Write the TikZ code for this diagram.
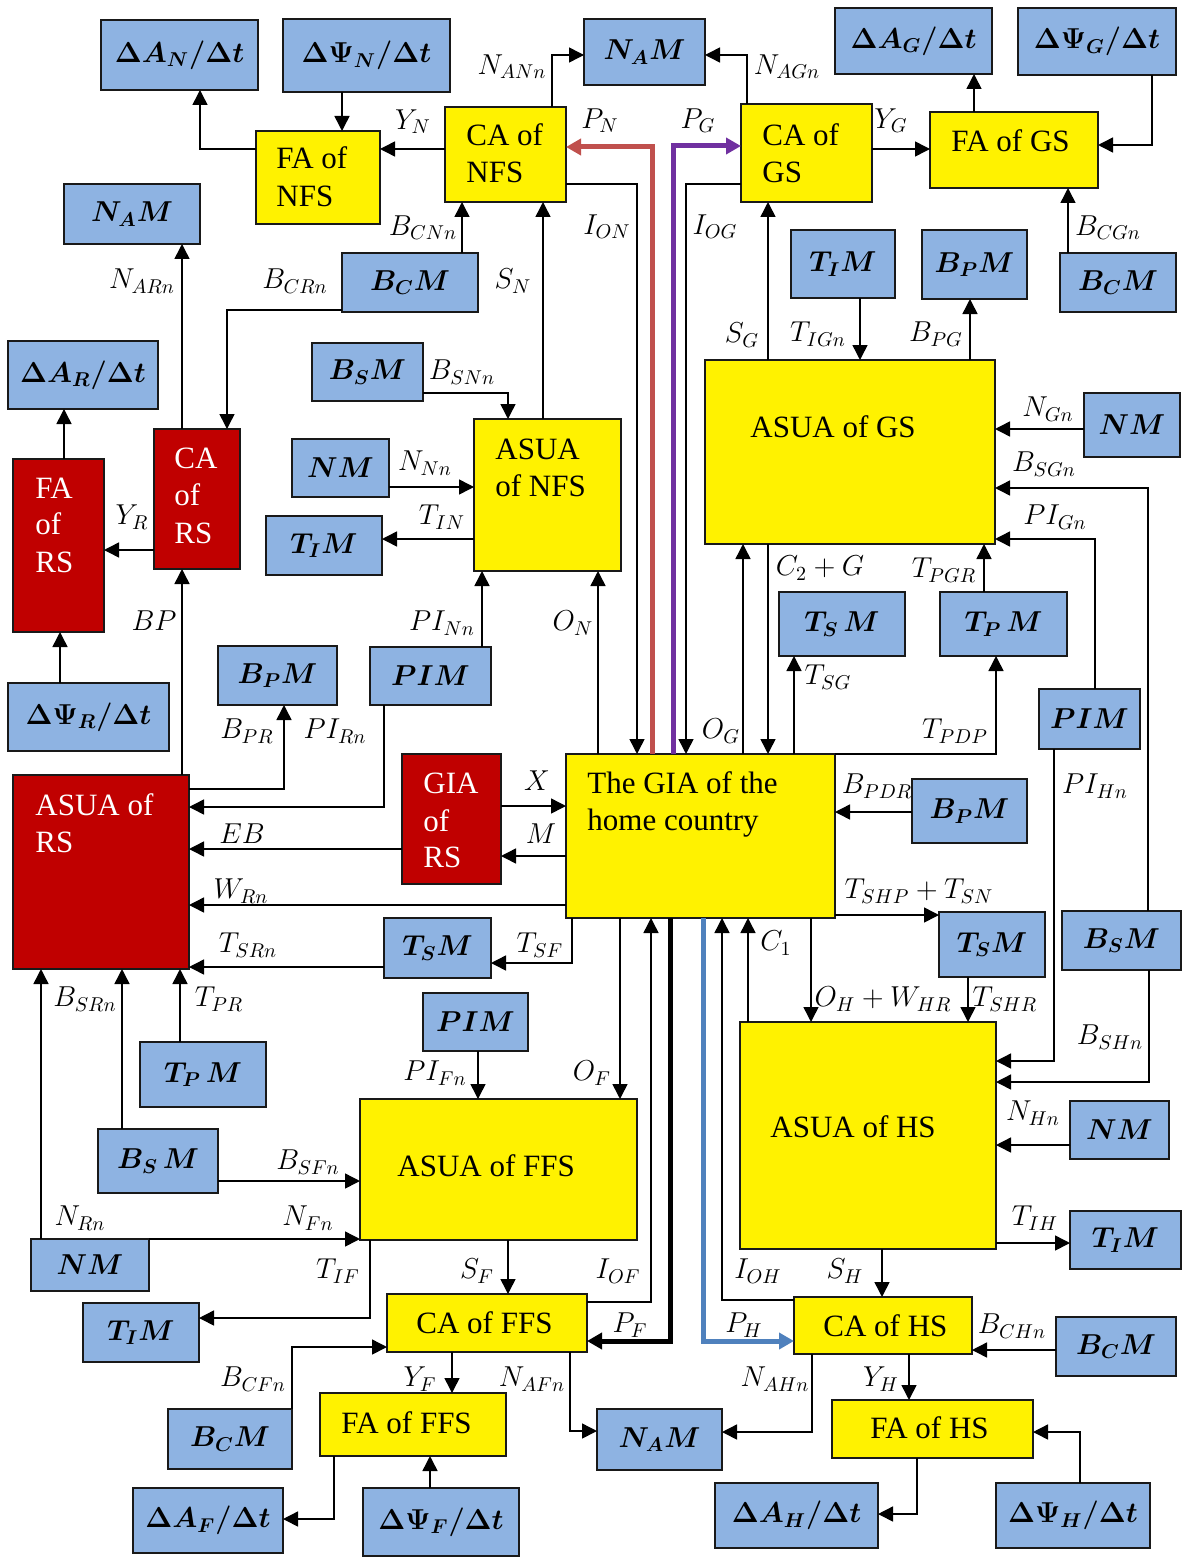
\documentclass[tikz,border=0pt]{standalone}
\usepackage{fontspec}
\setmainfont{Liberation Serif}
\newfontfamily\tnr{Liberation Serif}
\usepackage{bm}
\usetikzlibrary{arrows.meta}
\definecolor{boxblue}{RGB}{142,179,226}
\definecolor{rsred}{RGB}{192,0,0}
\definecolor{pnred}{RGB}{192,80,77}
\definecolor{pgpurple}{RGB}{112,48,160}
\definecolor{phblue}{RGB}{79,129,189}
\newcommand\bx[7]{\node[#6,minimum width={(#4-#2)*0.5pt},minimum height={(#5-#3)*0.5pt}] (#1) at ({(#2+#4)/2},{(#3+#5)/2}) {#7};}
\begin{document}
\begin{tikzpicture}[x=0.5pt,y=-0.5pt,
  box/.style={draw=black!90,line width=1pt,inner sep=0pt,outer sep=0pt},
  bb/.style={box,fill=boxblue,font=\fontsize{14.5}{17}\selectfont},
  yb/.style={box,fill=yellow},
  rb/.style={box,fill=rsred},
  txt/.style={anchor=base west,inner sep=0pt,font=\tnr\fontsize{15.5}{18}\selectfont},
  wtxt/.style={txt,text=white},
  lbl/.style={inner sep=0pt,font=\fontsize{14}{16}\selectfont},
  arr/.style={line width=0.75pt,-{Triangle[length=7.5pt,width=7.5pt]}},
  thk/.style={line width=2.5pt,-{Triangle[length=7.5pt,width=8pt]}}]
\useasboundingbox (0,0) rectangle (1188,1557);
\fill[white] (0,0) rectangle (1188,1557);
% ---- boxes ----
\bx{dAN}{101}{20}{258}{90}{bb}{$\bm{\Delta A_N/\Delta t}$}
\bx{dPN}{283}{19}{450}{92}{bb}{$\bm{\Delta\Psi_N/\Delta t}$}
\bx{faNFS}{256}{131}{380}{224}{yb}{}
\bx{caNFS}{445}{107}{566}{202}{yb}{}
\bx{namT}{584}{19}{705}{85}{bb}{$\bm{N_AM}$}
\bx{caGS}{741}{104}{872}{202}{yb}{}
\bx{faGS}{930}{112}{1098}{188}{yb}{}
\bx{dAG}{835}{8}{992}{74}{bb}{$\bm{\Delta A_G/\Delta t}$}
\bx{dPG}{1018}{8}{1176}{75}{bb}{$\bm{\Delta\Psi_G/\Delta t}$}
\bx{bcmTR}{1060}{253}{1176}{312}{bb}{$\bm{B_CM}$}
\bx{timT}{791}{230}{895}{298}{bb}{$\bm{T_IM}$}
\bx{bpmT}{922}{230}{1027}{299}{bb}{$\bm{B_PM}$}
\bx{asuaGS}{705}{360}{995}{544}{yb}{}
\bx{nmR}{1084}{393}{1180}{457}{bb}{$\bm{NM}$}
\bx{tsmG}{779}{592}{905}{656}{bb}{$\bm{T_S\,M}$}
\bx{tpmG}{940}{592}{1067}{656}{bb}{$\bm{T_P\,M}$}
\bx{pimR}{1039}{689}{1140}{749}{bb}{$\bm{PIM}$}
\bx{namL}{64}{184}{200}{244}{bb}{$\bm{N_AM}$}
\bx{bcmL}{342}{253}{478}{312}{bb}{$\bm{B_CM}$}
\bx{dAR}{8}{341}{158}{409}{bb}{$\bm{\Delta A_R/\Delta t}$}
\bx{bsmN}{312}{343}{423}{401}{bb}{$\bm{B_SM}$}
\bx{caRS}{154}{429}{240}{569}{rb}{}
\bx{faRS}{13}{459}{104}{632}{rb}{}
\bx{nmN}{292}{439}{389}{497}{bb}{$\bm{NM}$}
\bx{timN}{266}{516}{382}{575}{bb}{$\bm{T_IM}$}
\bx{asuaNFS}{474}{419}{621}{571}{yb}{}
\bx{dPR}{8}{683}{169}{751}{bb}{$\bm{\Delta\Psi_R/\Delta t}$}
\bx{bpmR}{218}{646}{337}{705}{bb}{$\bm{B_PM}$}
\bx{pimN}{370}{647}{491}{705}{bb}{$\bm{PIM}$}
\bx{asuaRS}{13}{775}{189}{969}{rb}{}
\bx{giaRS}{402}{754}{501}{884}{rb}{}
\bx{gia}{566}{754}{835}{918}{yb}{}
\bx{bpmH}{912}{779}{1027}{843}{bb}{$\bm{B_PM}$}
\bx{tsmF}{384}{918}{491}{978}{bb}{$\bm{T_SM}$}
\bx{tsmH}{939}{912}{1045}{977}{bb}{$\bm{T_SM}$}
\bx{bsmR}{1062}{911}{1181}{970}{bb}{$\bm{B_SM}$}
\bx{tpmR}{140}{1042}{266}{1107}{bb}{$\bm{T_P\,M}$}
\bx{pimF}{423}{993}{528}{1051}{bb}{$\bm{PIM}$}
\bx{bsmF}{98}{1129}{218}{1193}{bb}{$\bm{B_S\,M}$}
\bx{asuaFFS}{360}{1099}{637}{1240}{yb}{}
\bx{asuaHS}{740}{1022}{996}{1249}{yb}{}
\bx{nmH}{1070}{1101}{1169}{1159}{bb}{$\bm{NM}$}
\bx{timH}{1070}{1211}{1181}{1269}{bb}{$\bm{T_IM}$}
\bx{nmF}{31}{1239}{149}{1291}{bb}{$\bm{NM}$}
\bx{timF}{83}{1303}{199}{1362}{bb}{$\bm{T_IM}$}
\bx{caFFS}{387}{1294}{587}{1352}{yb}{}
\bx{caHS}{794}{1297}{972}{1354}{yb}{}
\bx{bcmH}{1056}{1317}{1176}{1376}{bb}{$\bm{B_CM}$}
\bx{bcmF}{168}{1409}{292}{1469}{bb}{$\bm{B_CM}$}
\bx{faFFS}{320}{1393}{506}{1456}{yb}{}
\bx{namB}{597}{1409}{722}{1470}{bb}{$\bm{N_AM}$}
\bx{faHS}{832}{1400}{1033}{1458}{yb}{}
\bx{dAF}{133}{1488}{283}{1553}{bb}{$\bm{\Delta A_F/\Delta t}$}
\bx{dPF}{363}{1488}{519}{1556}{bb}{$\bm{\Delta\Psi_F/\Delta t}$}
\bx{dAH}{715}{1483}{878}{1548}{bb}{$\bm{\Delta A_H/\Delta t}$}
\bx{dPH}{996}{1483}{1150}{1548}{bb}{$\bm{\Delta\Psi_H/\Delta t}$}
% ---- box texts ----
\node[txt] (tFN1) at (276,169) {FA of};
\node[txt] (tFN2) at (276,206) {NFS};
\node[txt] (tCN1) at (466,146) {CA of};
\node[txt] (tCN2) at (466,183) {NFS};
\node[txt] (tCG1) at (762,146) {CA of};
\node[txt] (tCG2) at (762,183) {GS};
\node[txt] (tFG) at (951,152) {FA of GS};
\node[wtxt] (tFR1) at (35,498) {FA};
\node[wtxt] (tFR2) at (35,534) {of};
\node[wtxt] (tFR3) at (35,572) {RS};
\node[wtxt] (tCR1) at (174,468) {CA};
\node[wtxt] (tCR2) at (174,505) {of};
\node[wtxt] (tCR3) at (174,543) {RS};
\node[txt] (tAN1) at (495,459) {ASUA};
\node[txt] (tAN2) at (495,496) {of NFS};
\node[txt] (tAG) at (750,437) {ASUA of GS};
\node[wtxt] (tAR1) at (35,815) {ASUA of};
\node[wtxt] (tAR2) at (35,852) {RS};
\node[wtxt] (tGR1) at (423,793) {GIA};
\node[wtxt] (tGR2) at (423,831) {of};
\node[wtxt] (tGR3) at (423,867) {RS};
\node[txt] (tG1) at (587,793) {The GIA of the};
\node[txt] (tG2) at (587,830) {home country};
\node[txt] (tAF) at (397,1176) {ASUA of FFS};
\node[txt] (tAH) at (770,1137) {ASUA of HS};
\node[txt] (tCF) at (416,1333) {CA of FFS};
\node[txt] (tCH) at (823,1336) {CA of HS};
\node[txt] (tFF) at (341,1433) {FA of FFS};
\node[txt] (tFH) at (870,1438) {FA of HS};
% ---- thick coloured connectors ----
\draw[thk,pnred] (gia.north -| 652,0) |- (caNFS.east |- 0,147);
\draw[thk,pgpurple] (gia.north -| 673,0) |- (caGS.west |- 0,146);
\draw[thk,phblue] (gia.south -| 703,0) |- (caHS.west |- 0,1341);
\draw[thk,black] (gia.south -| 670,0) |- (caFFS.east |- 0,1341);
% ---- connectors ----
\draw[arr] (faNFS.west |- 0,149) -| (dAN.south -| 200,0);
\draw[arr] (dPN.south -| 342,0) -- (faNFS.north -| 342,0);
\draw[arr] (caNFS.west |- 0,149) -- (faNFS.east |- 0,149);
\draw[arr] (caNFS.north -| 552,0) |- (namT.west |- 0,55);
\draw[arr] (caGS.north -| 747,0) |- (namT.east |- 0,55);
\draw[arr] (caNFS.east |- 0,184) -| (gia.north -| 637,0);
\draw[arr] (caGS.west |- 0,184) -| (gia.north -| 686,0);
\draw[arr] (asuaGS.north -| 768,0) -- (caGS.south -| 768,0);
\draw[arr] (caGS.east |- 0,149) -- (faGS.west |- 0,149);
\draw[arr] (faGS.north -| 974,0) -- (dAG.south -| 974,0);
\draw[arr] (dPG.south -| 1152,0) |- (faGS.east |- 0,145);
\draw[arr] (bcmTR.north -| 1068,0) -- (faGS.south -| 1068,0);
\draw[arr] (timT.south -| 860,0) -- (asuaGS.north -| 860,0);
\draw[arr] (asuaGS.north -| 970,0) -- (bpmT.south -| 970,0);
\draw[arr] (nmR.west |- 0,429) -- (asuaGS.east |- 0,429);
\draw[arr] (bsmR.north -| 1148,0) |- (asuaGS.east |- 0,488);
\draw[arr] (pimR.north -| 1095,0) |- (asuaGS.east |- 0,539);
\draw[arr] (tpmG.north -| 984,0) -- (asuaGS.south -| 984,0);
\draw[arr] (gia.north -| 743,0) -- (asuaGS.south -| 743,0);
\draw[arr] (asuaGS.south -| 768,0) -- (gia.north -| 768,0);
\draw[arr] (gia.north -| 794,0) -- (tsmG.south -| 794,0);
\draw[arr] (gia.north east) -| (tpmG.south -| 996,0);
\draw[arr] (bpmH.west |- 0,812) -- (gia.east |- 0,812);
\draw[arr] (pimR.south -| 1054,0) |- (asuaHS.east |- 0,1061);
\draw[arr] (bsmR.south -| 1149,0) |- (asuaHS.east |- 0,1082);
\draw[arr] (nmH.west |- 0,1145) -- (asuaHS.east |- 0,1145);
\draw[arr] (asuaHS.east |- 0,1243) -- (timH.west |- 0,1243);
\draw[arr] (gia.east |- 0,915) -- (tsmH.west |- 0,915);
\draw[arr] (gia.south -| 811,0) -- (asuaHS.north -| 811,0);
\draw[arr] (tsmH.south -| 968,0) -- (asuaHS.north -| 968,0);
\draw[arr] (asuaHS.north -| 748,0) -- (gia.south -| 748,0);
\draw[arr] (caHS.west |- 0,1300) -| (gia.south -| 722,0);
\draw[arr] (caFFS.east |- 0,1302) -| (gia.south -| 651,0);
\draw[arr] (gia.south -| 620,0) -- (asuaFFS.north -| 620,0);
\draw[arr] (gia.south -| 572,0) |- (tsmF.east |- 0,963);
\draw[arr] (tsmF.west |- 0,967) -- (asuaRS.east |- 0,967);
\draw[arr] (gia.west |- 0,905) -- (asuaRS.east |- 0,905);
\draw[arr] (gia.west |- 0,856) -- (giaRS.east |- 0,856);
\draw[arr] (giaRS.east |- 0,806) -- (gia.west |- 0,806);
\draw[arr] (giaRS.west |- 0,849) -- (asuaRS.east |- 0,849);
\draw[arr] (pimN.south -| 384,0) |- (asuaRS.east |- 0,807);
\draw[arr] (asuaRS.east |- 0,789) -| (bpmR.south -| 284,0);
\draw[arr] (asuaRS.north -| 182,0) -- (caRS.south -| 182,0);
\draw[arr] (caRS.west |- 0,550) -- (faRS.east |- 0,550);
\draw[arr] (faRS.north -| 64,0) -- (dAR.south -| 64,0);
\draw[arr] (dPR.north -| 60,0) -- (faRS.south -| 60,0);
\draw[arr] (caRS.north -| 182,0) -- (namL.south -| 182,0);
\draw[arr] (bcmL.west |- 0,310) -| (caRS.north -| 227,0);
\draw[arr] (bcmL.north -| 462,0) -- (caNFS.south -| 462,0);
\draw[arr] (asuaNFS.north -| 543,0) -- (caNFS.south -| 543,0);
\draw[arr] (bsmN.east |- 0,393) -| (asuaNFS.north -| 508,0);
\draw[arr] (nmN.east |- 0,487) -- (asuaNFS.west |- 0,487);
\draw[arr] (asuaNFS.west |- 0,539) -- (timN.east |- 0,539);
\draw[arr] (pimN.north -| 482,0) -- (asuaNFS.south -| 482,0);
\draw[arr] (gia.north -| 598,0) -- (asuaNFS.south -| 598,0);
\draw[arr] (tpmR.north -| 180,0) -- (asuaRS.south -| 180,0);
\draw[arr] (bsmF.north -| 122,0) -- (asuaRS.south -| 122,0);
\draw[arr] (nmF.north -| 41,0) -- (asuaRS.south -| 41,0);
\draw[arr] (nmF.north east) -- (asuaFFS.west |- 0,1239);
\draw[arr] (bsmF.east |- 0,1181) -- (asuaFFS.west |- 0,1181);
\draw[arr] (pimF.south -| 478,0) -- (asuaFFS.north -| 478,0);
\draw[arr] (asuaFFS.south -| 370,0) |- (timF.east |- 0,1318);
\draw[arr] (bcmF.north east) |- (caFFS.west |- 0,1347);
\draw[arr] (asuaFFS.south -| 508,0) -- (caFFS.north -| 508,0);
\draw[arr] (caFFS.south -| 452,0) -- (faFFS.north -| 452,0);
\draw[arr] (caFFS.south -| 570,0) |- (namB.west |- 0,1431);
\draw[arr] (caHS.south -| 812,0) |- (namB.east |- 0,1432);
\draw[arr] (faFFS.south -| 334,0) |- (dAF.east |- 0,1519);
\draw[arr] (dPF.north -| 430,0) -- (faFFS.south -| 430,0);
\draw[arr] (asuaHS.south -| 882,0) -- (caHS.north -| 882,0);
\draw[arr] (bcmH.west |- 0,1350) -- (caHS.east |- 0,1350);
\draw[arr] (caHS.south -| 909,0) -- (faHS.north -| 909,0);
\draw[arr] (faHS.south -| 917,0) |- (dAH.east |- 0,1514);
\draw[arr] (dPH.north -| 1080,0) |- (faHS.east |- 0,1432);
% ---- labels ----
\node[lbl] (lYN) at (413,122) {$Y_N$};
\node[lbl] (lNANn) at (512,67) {$N_{ANn}$};
\node[lbl] (lNAGn) at (787,67) {$N_{AGn}$};
\node[lbl] (lPN) at (600,121) {$P_N$};
\node[lbl] (lPG) at (698,121) {$P_G$};
\node[lbl] (lBCNn) at (423,228) {$B_{CNn}$};
\node[lbl] (lION) at (607,227) {$I_{ON}$};
\node[lbl] (lIOG) at (715,227) {$I_{OG}$};
\node[lbl] (lSN) at (513,281) {$S_N$};
\node[lbl] (lSG) at (742,335) {$S_G$};
\node[lbl] (lYG) at (891,121) {$Y_G$};
\node[lbl] (lBCGn) at (1108,228) {$B_{CGn}$};
\node[lbl] (lTIGn) at (818,334) {$T_{IGn}$};
\node[lbl] (lBPG) at (936,334) {$B_{PG}$};
\node[lbl] (lNARn) at (142,281) {$N_{ARn}$};
\node[lbl] (lBCRn) at (295,281) {$B_{CRn}$};
\node[lbl] (lBSNn) at (462,372) {$B_{SNn}$};
\node[lbl] (lNGn) at (1048,409) {$N_{Gn}$};
\node[lbl] (lBSGn) at (1044,464) {$B_{SGn}$};
\node[lbl] (lPIGn) at (1055,517) {$PI_{Gn}$};
\node[lbl] (lTPGR) at (944,570) {$T_{PGR}$};
\node[lbl] (lC2G) at (820,568) {$C_2+G$};
\node[lbl] (lTSG) at (828,677) {$T_{SG}$};
\node[lbl] (lTPDP) at (955,731) {$T_{PDP}$};
\node[lbl] (lOG) at (721,731) {$O_G$};
\node[lbl] (lON) at (573,623) {$O_N$};
\node[lbl] (lPINn) at (442,623) {$PI_{Nn}$};
\node[lbl] (lNNn) at (425,463) {$N_{Nn}$};
\node[lbl] (lTIN) at (442,517) {$T_{IN}$};
\node[lbl] (lYR) at (132,517) {$Y_R$};
\node[lbl] (lBP) at (154,621) {$BP$};
\node[lbl] (lBPR) at (247,731) {$B_{PR}$};
\node[lbl] (lPIRn) at (335,731) {$PI_{Rn}$};
\node[lbl] (lX) at (537,781) {$X$};
\node[lbl] (lM) at (541,834) {$M$};
\node[lbl] (lEB) at (242,834) {$EB$};
\node[lbl] (lWRn) at (241,891) {$W_{Rn}$};
\node[lbl] (lTSRn) at (248,945) {$T_{SRn}$};
\node[lbl] (lTSF) at (540,945) {$T_{SF}$};
\node[lbl] (lBSRn) at (85,999) {$B_{SRn}$};
\node[lbl] (lTPR) at (219,999) {$T_{PR}$};
\node[lbl] (lPIFn) at (435,1073) {$PI_{Fn}$};
\node[lbl] (lOF) at (592,1073) {$O_F$};
\node[lbl] (lC1) at (776,943) {$C_1$};
\node[lbl] (lBPDR) at (877,786) {$B_{PDR}$};
\node[lbl] (lPIHn) at (1095,786) {$PI_{Hn}$};
\node[lbl] (lTSHP) at (919,891) {$T_{SHP}+T_{SN}$};
\node[lbl] (lOHW) at (883,999) {$O_H+W_{HR}$};
\node[lbl] (lTSHR) at (1005,999) {$T_{SHR}$};
\node[lbl] (lBSHn) at (1110,1037) {$B_{SHn}$};
\node[lbl] (lNHn) at (1033,1113) {$N_{Hn}$};
\node[lbl] (lTIH) at (1035,1218) {$T_{IH}$};
\node[lbl] (lSH) at (845,1271) {$S_H$};
\node[lbl] (lBCHn) at (1012,1326) {$B_{CHn}$};
\node[lbl] (lYH) at (881,1379) {$Y_H$};
\node[lbl] (lNAHn) at (775,1379) {$N_{AHn}$};
\node[lbl] (lIOH) at (758,1271) {$I_{OH}$};
\node[lbl] (lPH) at (744,1325) {$P_H$};
\node[lbl] (lPF) at (630,1325) {$P_F$};
\node[lbl] (lIOF) at (618,1271) {$I_{OF}$};
\node[lbl] (lSF) at (477,1271) {$S_F$};
\node[lbl] (lYF) at (420,1379) {$Y_F$};
\node[lbl] (lNAFn) at (532,1379) {$N_{AFn}$};
\node[lbl] (lNRn) at (80,1218) {$N_{Rn}$};
\node[lbl] (lNFn) at (308,1218) {$N_{Fn}$};
\node[lbl] (lBSFn) at (308,1162) {$B_{SFn}$};
\node[lbl] (lTIF) at (338,1271) {$T_{IF}$};
\node[lbl] (lBCFn) at (253,1379) {$B_{CFn}$};
\end{tikzpicture}
\end{document}
